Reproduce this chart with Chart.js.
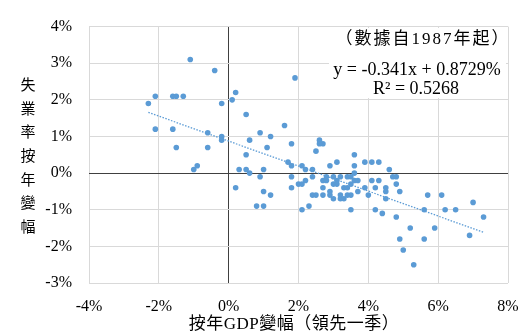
<!DOCTYPE html>
<html>
<head>
<meta charset="utf-8">
<script src="https://cdn.jsdelivr.net/npm/chart.js"></script>
<style>
  body { margin: 0; background: #fff; }
  #wrap { width: 520px; height: 335px; }
</style>
</head>
<body>
<div id="wrap"><canvas id="chart" width="520" height="335"></canvas></div>
<script>
// GDP year-on-year change (leading one quarter), %
const gdpChange = [
  -1.1, -0.4, 1.9, -2.1, -1.6, -1.5, -1.3, 0.2, -2.3, -0.2,
  0.1, 0.5, -2.1, -1.6, -0.6, -0.2, -0.2, 0.9, 1.2, 1.6,
  0.6, -1.5, -0.6, 1.1, 1.8, 2.6, 2.7, 2.6, 2.5, -1.0,
  -0.9, 0.3, 0.5, 0.6, 0.2, 0.8, 1.0, 0.5, 1.7, 1.8,
  2.1, 2.2, 2.4, 2.9, 3.1, 3.6, 3.6, 3.9, 4.1, 4.3,
  4.6, 1.0, 0.9, 1.0, 1.2, 1.8, 1.8, 2.0, 2.1, 2.2,
  2.4, 2.1, 2.3, 2.4, 2.5, 2.7, 2.7, 2.8, 2.8, 2.7,
  2.9, 2.9, 3.0, 3.0, 3.1, 3.1, 3.0, 3.2, 3.2, 3.2,
  3.3, 3.3, 3.4, 3.5, 3.4, 3.4, 3.5, 3.5, 3.5, 3.6,
  3.6, 3.7, 3.7, 3.9, 4.0, 4.1, 4.2, 4.3, 4.2, 4.4,
  4.5, 4.5, 4.5, 4.7, 4.8, 4.8, 4.9, 4.8, 4.9, 5.0,
  5.2, 5.3, 5.6, 5.6, 5.7, 5.9, 6.1, 6.2, 6.5, 6.9,
  7.0, 7.3
];

// Unemployment rate year-on-year change, %
const unempChange = [
  3.1, 2.8, 2.6, 2.1, 2.1, 2.1, 2.1, 2.2, 1.9, 1.9,
  2.0, 1.6, 1.2, 1.2, 1.1, 1.0, 0.9, 1.1, 1.0, 1.3,
  0.9, 0.7, 0.7, 0.7, 0.8, 0.9, 0.8, 0.8, 0.6, 0.1,
  0.2, 0.1, 0.1, 0.0, -0.4, -0.9, -0.9, 0.5, 0.3, 0.2,
  0.2, 0.1, 0.1, 0.2, 0.3, 0.5, 0.2, 0.3, 0.3, 0.3,
  0.1, 0.1, -0.1, -0.5, -0.6, -0.1, -0.4, -0.3, -0.3, -0.2,
  -0.1, -1.0, -0.9, -0.6, -0.6, -0.4, -0.2, -0.2, -0.1, -0.6,
  -0.5, -0.6, -0.1, -0.3, -0.3, -0.2, -0.7, -0.1, -0.6, -0.7,
  -0.4, -0.7, -0.1, -0.1, -0.4, -0.6, -0.6, -0.3, -1.0, 0.0,
  -0.2, -0.2, -0.5, -0.4, -0.6, -0.2, -0.4, -0.2, -1.0, -1.1,
  -0.4, -0.5, -0.7, -0.1, -0.1, -0.3, -0.5, -1.2, -1.8, -2.1,
  -1.5, -2.5, -1.0, -1.8, -0.6, -1.5, -0.6, -1.0, -1.0, -1.7,
  -0.8, -1.2
];

// Linear trend as printed on the chart
const trendSlope = -0.341;
const trendIntercept = 0.8729;

const xTicks = [-4, -2, 0, 2, 4, 6, 8];
const yTicks = [-3, -2, -1, 0, 1, 2, 3, 4];

const yTitle = ['失', '業', '率', '按', '年', '變', '幅'];
const xTitle = '按年GDP變幅（領先一季）';
const noteLines = ['（數據自1987年起）', 'y = -0.341x + 0.8729%', 'R² = 0.5268'];

const points = gdpChange.map((x, i) => ({ x: x, y: unempChange[i] }));
const xMin = Math.min(...gdpChange);
const xMax = Math.max(...gdpChange);
const trend = [xMin, xMax].map(x => ({ x: x, y: trendSlope * x + trendIntercept }));

const serif = "'Liberation Serif', 'Noto Sans CJK TC', serif";
const blue = '#5b9bd5';

// Titles and the equation box are drawn straight on the canvas
const textPlugin = {
    id: 'texts',
    beforeDatasetsDraw(chart) {
        const ctx = chart.ctx;
        ctx.save();
        ctx.fillStyle = '#fff';
        ctx.fillRect(329, 28, 177, 70);
        ctx.fillStyle = '#000';
        ctx.textBaseline = 'middle';
        ctx.textAlign = 'center';
        ctx.font = '17px ' + serif;
        ctx.letterSpacing = '2px';
        ctx.fillText(noteLines[0], 423, 40);
        ctx.letterSpacing = '0px';
        ctx.font = '18px ' + serif;
        ctx.fillText(noteLines[1], 417, 70);
        ctx.fillText(noteLines[2], 416, 89);
        ctx.restore();
    },
    afterDraw(chart) {
        const ctx = chart.ctx;
        ctx.save();
        ctx.fillStyle = '#000';
        ctx.textAlign = 'center';
        ctx.textBaseline = 'middle';
        ctx.font = '15px ' + serif;
        yTitle.forEach((ch, i) => {
            ctx.fillText(ch, 28, 86 + i * 23.7);
        });
        ctx.font = '17px ' + serif;
        ctx.letterSpacing = '0.5px';
        ctx.fillText(xTitle, 294, 325);
        ctx.restore();
    }
};

new Chart(document.getElementById('chart'), {
    type: 'scatter',
    data: {
        datasets: [
            {
                data: points,
                backgroundColor: blue,
                borderColor: blue,
                borderWidth: 0,
                pointRadius: 2.8,
                pointHoverRadius: 2.8
            },
            {
                type: 'line',
                data: trend,
                borderColor: blue,
                borderWidth: 1.3,
                borderDash: [1.5, 1.5],
                pointRadius: 0,
                fill: false
            }
        ]
    },
    options: {
        responsive: false,
        animation: false,
        layout: { padding: { top: 21, right: 12, left: 0, bottom: 0 } },
        plugins: {
            legend: { display: false },
            tooltip: { enabled: false }
        },
        scales: {
            x: {
                type: 'linear',
                min: xTicks[0],
                max: xTicks[xTicks.length - 1],
                afterBuildTicks: s => { s.ticks = xTicks.map(v => ({ value: v })); },
                afterFit: s => { s.height = 52; s.paddingLeft = 0; s.paddingRight = 0; },
                border: { display: false },
                grid: {
                    drawTicks: false,
                    lineWidth: 1,
                    color: c => c.tick && c.tick.value === 0 ? '#404040' : '#d9d9d9'
                },
                ticks: {
                    padding: 14,
                    color: '#000',
                    font: { family: serif, size: 16 },
                    callback: v => v + '%'
                }
            },
            y: {
                min: yTicks[0],
                max: yTicks[yTicks.length - 1],
                afterBuildTicks: s => { s.ticks = yTicks.map(v => ({ value: v })); },
                afterFit: s => { s.width = 89; },
                border: { display: false },
                grid: {
                    drawTicks: false,
                    lineWidth: 1,
                    color: c => c.tick && c.tick.value === 0 ? '#404040' : '#d9d9d9'
                },
                ticks: {
                    padding: 17,
                    color: '#000',
                    font: { family: serif, size: 16 },
                    callback: v => v + '%'
                }
            }
        }
    },
    plugins: [textPlugin]
});
</script>
</body>
</html>
